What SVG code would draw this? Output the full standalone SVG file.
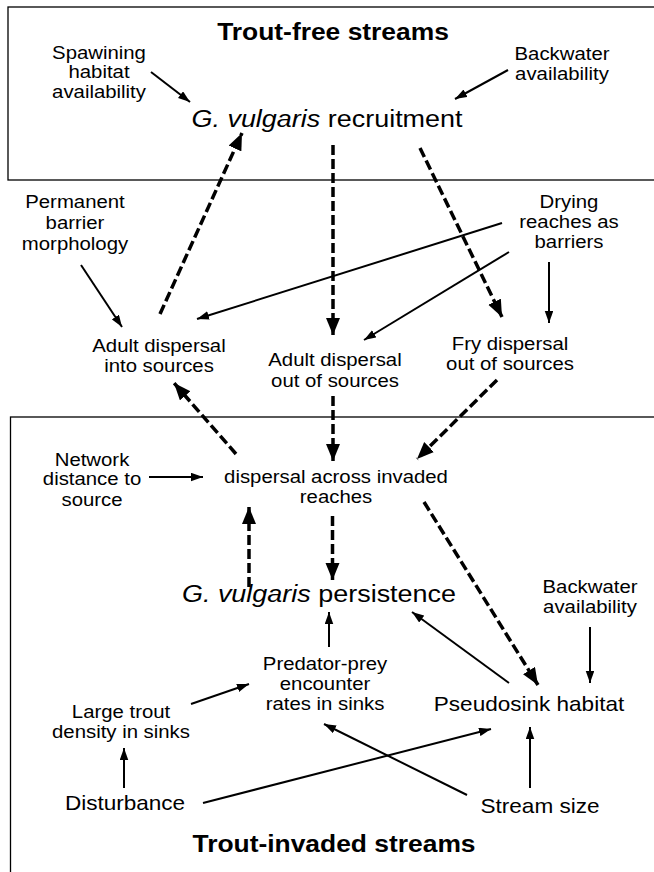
<svg xmlns="http://www.w3.org/2000/svg" width="654" height="872" viewBox="0 0 654 872">
<defs>
<marker id="ah" markerUnits="userSpaceOnUse" markerWidth="12" markerHeight="9" refX="12" refY="4.25" orient="auto">
<path d="M0,0 L12,4.25 L0,8.5 z" fill="#000"/>
</marker>
<marker id="ahd" markerUnits="userSpaceOnUse" markerWidth="18" markerHeight="15" refX="17" refY="7" orient="auto">
<path d="M0,0 L17,7 L0,14 z" fill="#000"/>
</marker>
</defs>
<style>
text { font-family: "Liberation Sans", Arial, sans-serif; fill: #000; text-anchor: middle; }
.s { font-size: 18.5px; }
.m { font-size: 20.5px; }
.l { font-size: 24.5px; }
.t { font-size: 24px; font-weight: bold; }
.box { fill: none; stroke: #000; stroke-width: 1.3; }
.sol { stroke: #000; stroke-width: 2; fill: none; marker-end: url(#ah); }
.dash { stroke: #000; stroke-width: 3.5; fill: none; stroke-dasharray: 10 4; marker-end: url(#ahd); }
</style>
<rect width="654" height="872" fill="#fff"/>
<g id="regions">
<rect id="trout-free" class="box" x="8" y="7" width="660" height="173"/>
<rect id="trout-invaded" class="box" x="10.5" y="417" width="660" height="480"/>
</g>
<g id="labels">
<text id="title-free" class="t" transform="translate(333,40) scale(1.1,1)">Trout-free streams</text>
<text id="title-invaded" class="t" transform="translate(334,852) scale(1.1,1)">Trout-invaded streams</text>
</g>
<g id="connectors">
<line class="sol" x1="151" y1="72" x2="190" y2="102"/>
<line class="sol" x1="508" y1="70" x2="455" y2="99"/>
<line class="sol" x1="81" y1="265" x2="122" y2="327"/>
<line class="sol" x1="502" y1="223" x2="197" y2="319"/>
<line class="sol" x1="509" y1="252" x2="364" y2="340"/>
<line class="sol" x1="549" y1="262" x2="549" y2="323"/>
<line class="sol" x1="149" y1="477" x2="203" y2="477"/>
<line class="sol" x1="590" y1="627" x2="590" y2="683"/>
<line class="sol" x1="509" y1="683" x2="412" y2="612"/>
<line class="sol" x1="329" y1="647" x2="329" y2="612"/>
<line class="sol" x1="191" y1="704" x2="249" y2="684"/>
<line class="sol" x1="467" y1="795" x2="324" y2="724"/>
<line class="sol" x1="203" y1="803" x2="491" y2="729"/>
<line class="sol" x1="124" y1="788" x2="124" y2="748"/>
<line class="sol" x1="530" y1="788" x2="530" y2="727"/>
<line class="dash" x1="160" y1="314" x2="242" y2="133"/>
<line class="dash" x1="333" y1="145" x2="333" y2="335"/>
<line class="dash" x1="420" y1="148" x2="502" y2="317"/>
<line class="dash" x1="236" y1="454" x2="174" y2="383"/>
<line class="dash" x1="333" y1="396" x2="333" y2="461"/>
<line class="dash" x1="497" y1="380" x2="417" y2="459"/>
<line class="dash" x1="249" y1="587" x2="249" y2="507"/>
<line class="dash" x1="332.5" y1="516" x2="332.5" y2="580"/>
<line class="dash" x1="424" y1="502" x2="538" y2="685"/>
</g>
<g id="spawning">
<text class="s" transform="translate(99,59) scale(1.1,1)"><tspan x="0">Spawining</tspan><tspan x="0" dy="19.5">habitat</tspan><tspan x="0" dy="19.5">availability</tspan></text>
</g>
<g id="backwater-free">
<text class="s" transform="translate(562,60) scale(1.1,1)"><tspan x="0">Backwater</tspan><tspan x="0" dy="20">availability</tspan></text>
</g>
<g id="recruitment">
<text class="l" transform="translate(327,127) scale(1.1,1)"><tspan font-style="italic">G. vulgaris</tspan> recruitment</text>
</g>
<g id="permanent-barrier">
<text class="s" transform="translate(75,208) scale(1.1,1)"><tspan x="0">Permanent</tspan><tspan x="0" dy="21">barrier</tspan><tspan x="0" dy="21">morphology</tspan></text>
</g>
<g id="drying">
<text class="s" transform="translate(569,208) scale(1.1,1)"><tspan x="0">Drying</tspan><tspan x="0" dy="20">reaches as</tspan><tspan x="0" dy="20">barriers</tspan></text>
</g>
<g id="adult-into">
<text class="s" transform="translate(159,352) scale(1.1,1)"><tspan x="0">Adult dispersal</tspan><tspan x="0" dy="20">into sources</tspan></text>
</g>
<g id="adult-out">
<text class="s" transform="translate(335,366) scale(1.1,1)"><tspan x="0">Adult dispersal</tspan><tspan x="0" dy="21">out of sources</tspan></text>
</g>
<g id="fry-out">
<text class="s" transform="translate(510,350) scale(1.1,1)"><tspan x="0">Fry dispersal</tspan><tspan x="0" dy="20">out of sources</tspan></text>
</g>
<g id="network-distance">
<text class="s" transform="translate(92,466) scale(1.1,1)"><tspan x="0">Network</tspan><tspan x="0" dy="19.5">distance to</tspan><tspan x="0" dy="20.5">source</tspan></text>
</g>
<g id="dispersal-invaded">
<text class="s" transform="translate(336,483) scale(1.1,1)"><tspan x="0">dispersal across invaded</tspan><tspan x="0" dy="20">reaches</tspan></text>
</g>
<g id="persistence">
<text class="l" transform="translate(319,602) scale(1.1,1)"><tspan font-style="italic">G. vulgaris</tspan> persistence</text>
</g>
<g id="backwater-invaded">
<text class="s" transform="translate(590,593) scale(1.1,1)"><tspan x="0">Backwater</tspan><tspan x="0" dy="20">availability</tspan></text>
</g>
<g id="predator-prey">
<text class="s" transform="translate(325,670) scale(1.1,1)"><tspan x="0">Predator-prey</tspan><tspan x="0" dy="20">encounter</tspan><tspan x="0" dy="20">rates in sinks</tspan></text>
</g>
<g id="pseudosink">
<text class="m" transform="translate(529,711) scale(1.1,1)">Pseudosink habitat</text>
</g>
<g id="large-trout">
<text class="s" transform="translate(121,718) scale(1.1,1)"><tspan x="0">Large trout</tspan><tspan x="0" dy="20">density in sinks</tspan></text>
</g>
<g id="disturbance">
<text class="m" transform="translate(125,810) scale(1.1,1)">Disturbance</text>
</g>
<g id="stream-size">
<text class="m" transform="translate(540,813) scale(1.1,1)">Stream size</text>
</g>
</svg>
